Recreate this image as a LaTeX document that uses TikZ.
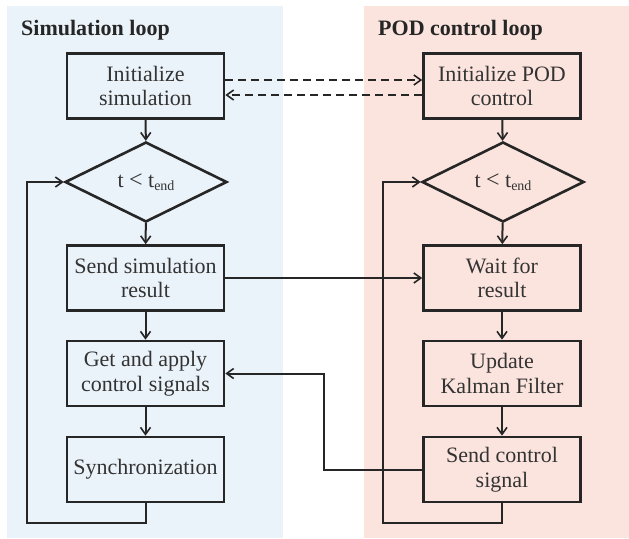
\documentclass[tikz,border=0pt]{standalone}
\usepackage{fontspec}
\setmainfont{Liberation Serif}
\usetikzlibrary{shapes.geometric,arrows.meta}
\definecolor{bgblue}{HTML}{EBF3FA}
\definecolor{bgpink}{HTML}{FCE4DE}
\definecolor{ink}{HTML}{262626}
\definecolor{txt}{HTML}{333333}
\newcommand{\tendsub}{t {\fontsize{24}{24}\selectfont<} t\raisebox{-0.25ex}{\fontsize{14}{14}\selectfont end}}
\begin{document}
\begin{tikzpicture}[x=1pt,y=1pt,
  box/.style={draw=ink,line width=2.6pt,rectangle,minimum width=157pt,minimum height=65pt,inner sep=0pt,align=center,text=txt,font=\fontsize{22}{24.5}\selectfont},
  dec/.style={draw=ink,line width=2.6pt,diamond,minimum width=162pt,minimum height=80pt,inner sep=0pt,text=txt,font=\fontsize{22}{24.5}\selectfont},
  title/.style={anchor=base west,inner sep=0pt,text=ink,font=\bfseries\fontsize{22}{24}\selectfont},
  conn/.style={draw=ink,line width=2pt,-{Straight Barb[length=7pt,width=10pt,line width=1.6pt]}},
  dsh/.style={conn,dash pattern=on 8pt off 5pt}
]
\useasboundingbox (0,0) rectangle (629,-538);
\fill[bgblue] (7,-6) rectangle (283,-538);
\fill[bgpink] (364,-6) rectangle (629,-538);
\node[title] (t1) at (21,-35) {Simulation loop};
\node[title] (t2) at (378,-35) {POD control loop};
% left column
\node[box] (init1) at (145.5,-86) {Initialize\\simulation};
\node[dec] (dia1) at (146,-182) {\tendsub};
\node[box] (send1) at (145.5,-278) {Send simulation\\result};
\node[box] (get1) at (145.5,-373.5) {Get and apply\\control signals};
\node[box] (sync1) at (145.5,-469.5) {Synchronization};
% right column
\node[box] (init2) at (502,-86) {Initialize POD\\control};
\node[dec] (dia2) at (503,-182) {\tendsub};
\node[box] (wait2) at (502,-278) {Wait for\\result};
\node[box] (kal2) at (502,-373.5) {Update\\Kalman Filter};
\node[box] (sig2) at (502,-469.5) {Send control\\signal};
% vertical flow
\draw[conn] (init1) -- (dia1);
\draw[conn] (dia1) -- (send1);
\draw[conn] (send1) -- (get1);
\draw[conn] (get1) -- (sync1);
\draw[conn] (init2) -- (dia2);
\draw[conn] (dia2) -- (wait2);
\draw[conn] (wait2) -- (kal2);
\draw[conn] (kal2) -- (sig2);
% loops
\coordinate (lb1) at (27,-523);
\coordinate (lb2) at (383,-523);
\draw[conn] (sync1.south) |- (lb1) |- (dia1.west);
\draw[conn] (sig2.south) |- (lb2) |- (dia2.west);
% dashed handshake
\draw[dsh] (init1.east |- 0,-80) -- (init2.west |- 0,-80);
\draw[dsh] (init2.west |- 0,-95) -- (init1.east |- 0,-95);
% cross connections
\draw[conn] (send1.east) -- (wait2.west);
\coordinate (mid) at (324,-470);
\draw[conn] (sig2.west |- mid) -- (mid) |- (get1.east);
\end{tikzpicture}
\end{document}
